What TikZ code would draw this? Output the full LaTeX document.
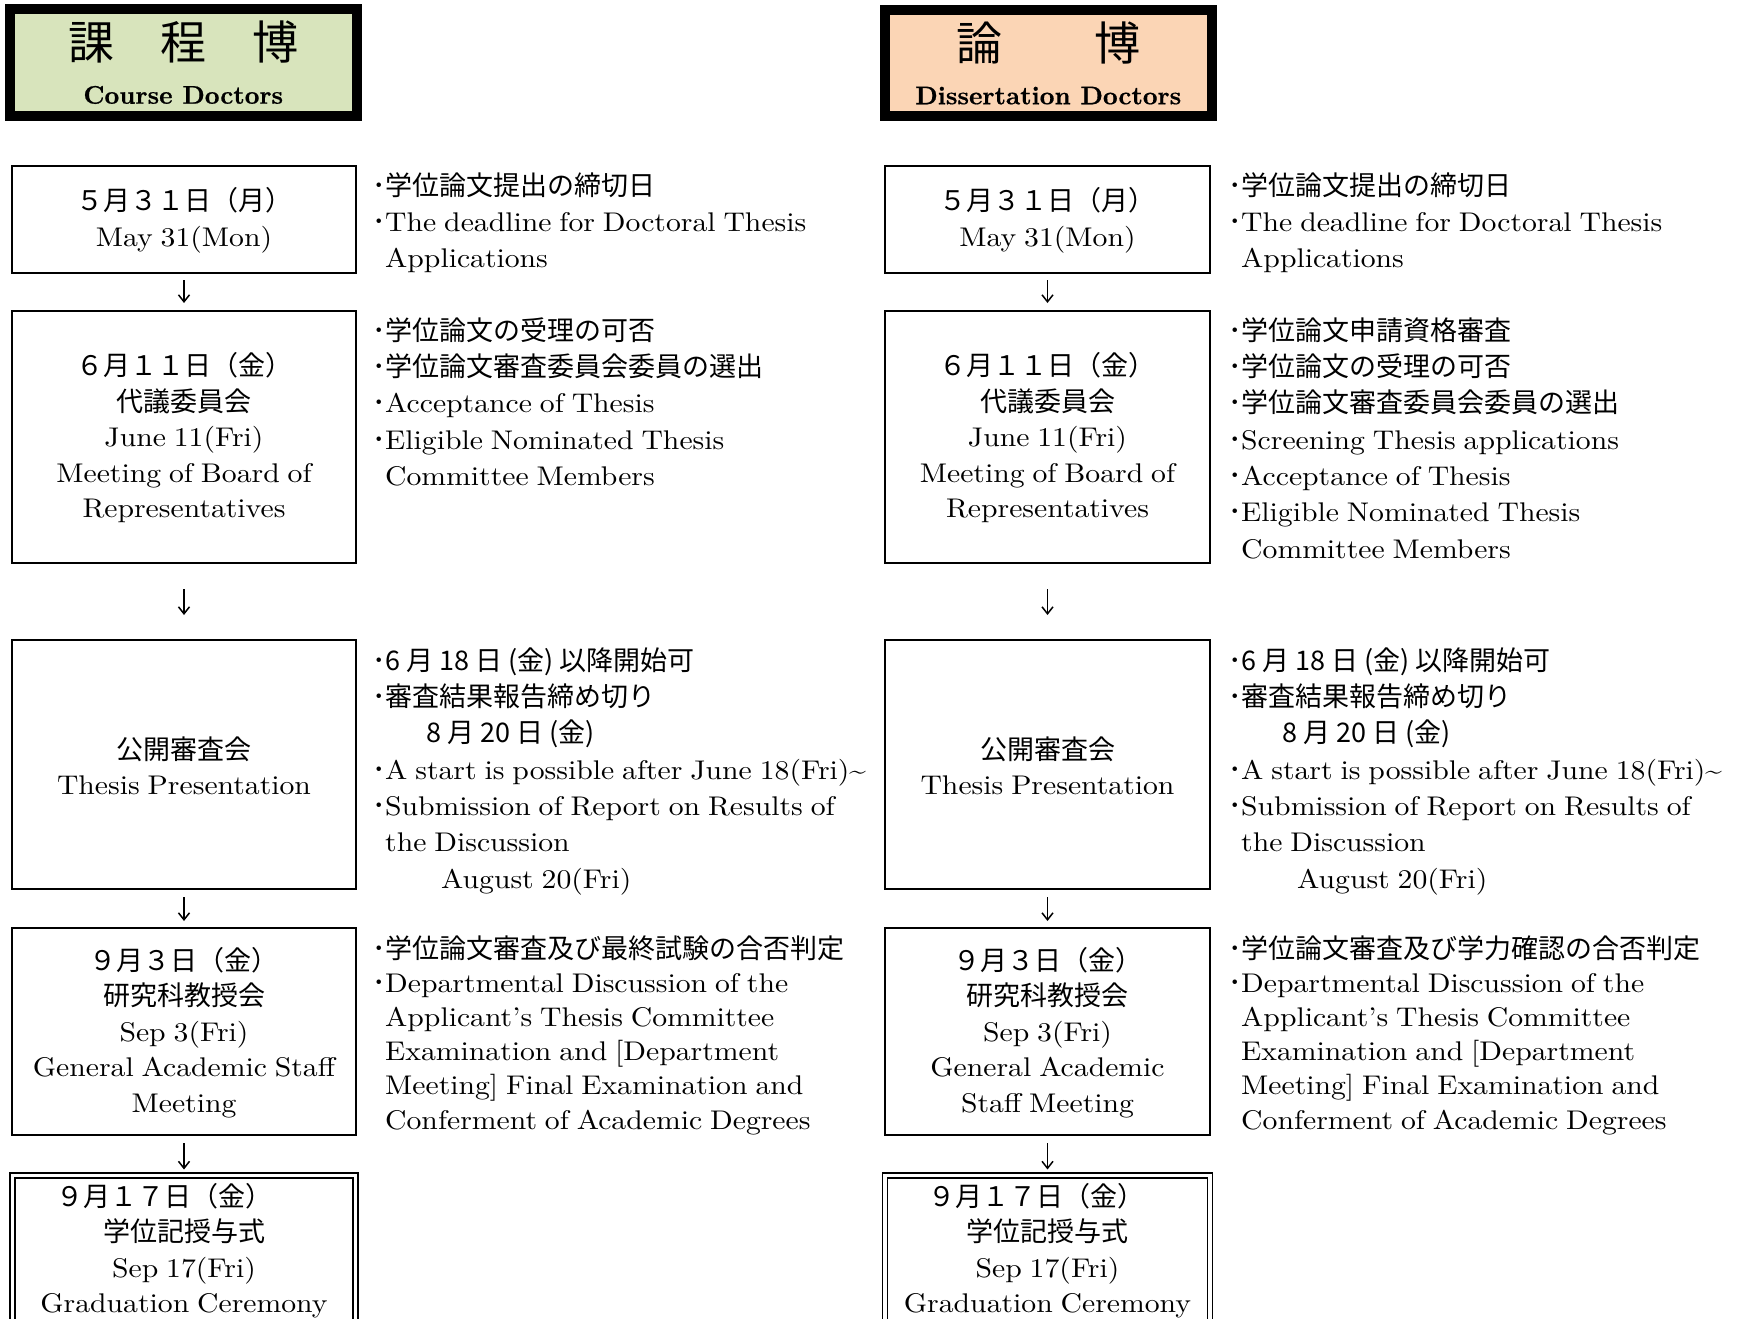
\documentclass[tikz,border=0pt]{standalone}
\usepackage{fontspec}
\usepackage{xcolor}
\usetikzlibrary{arrows.meta,positioning}

\setmainfont{lmroman10-regular.otf}[BoldFont=lmroman10-bold.otf,FakeStretch=1.1,WordSpace=0.8]
\newfontfamily\headfont{lmroman10-bold.otf}[FakeBold=0.6]
\newfontfamily\jp{Noto Sans CJK JP}
\definecolor{coursegreen}{RGB}{216,228,188}
\definecolor{dissertpeach}{RGB}{251,213,181}

\newcommand{\bul}{\makebox[13pt][l]{\jp ･}}
\newcommand{\ind}[1][13pt]{\hspace*{#1}}
\newcommand{\boxfont}{\fontsize{27}{35.5}\selectfont}
\newcommand{\notefont}{\fontsize{27}{36.3}\selectfont}

% side notes, the same text in both columns
\newcommand{\deadlinenote}{\strut\bul{\jp 学位論文提出の締切日}\\
  \bul The deadline for Doctoral Thesis\\
  \ind Applications}
\newcommand{\presentnote}{\strut\bul{\jp 6 月 18 日 (金) 以降開始可}\\
  \bul{\jp 審査結果報告締め切り}\\
  \ind[54pt]{\jp 8 月 20 日 (金)}\\
  \bul A start is possible after June 18(Fri)\textasciitilde\\
  \bul Submission of Report on Results of\\
  \ind the Discussion\\
  \ind[69pt]August 20(Fri)}
\newcommand{\discussnote}{\bul Departmental Discussion of the\\
  \ind Applicant’s Thesis Committee\\
  \ind Examination and [Department\\
  \ind Meeting] Final Examination and\\
  \ind Conferment of Academic Degrees}

\begin{document}
\begin{tikzpicture}[x=1pt,y=-1pt,
    head/.style={draw,line width=10pt,inner sep=0pt,align=center,
      minimum height=106.5pt,font=\fontsize{25.5}{44}\selectfont},
    box/.style={draw,line width=2pt,inner sep=0pt,align=center,font=\boxfont},
    lastbox/.style={box,double,line width=1.6pt,double distance=3.5pt},
    boxtext/.style={inner sep=0pt,align=center,font=\boxfont},
    note/.style={anchor=north west,inner sep=0pt,align=left,font=\notefont},
    flow/.style={-{Straight Barb[length=7pt,width=11pt]},line width=1.5pt}]
  \useasboundingbox (0,0) rectangle (1750,1319);

  % titles
  \node[head,fill=coursegreen,minimum width=347.5pt] (LH) at (183.25,62.5)
    {{\fontsize{46}{46}\selectfont\jp 課　程　博}\\{\headfont Course Doctors}};
  \node[head,fill=dissertpeach,minimum width=327.5pt] (RH) at (1048.25,63)
    {{\fontsize{46}{46}\selectfont\jp 論　　博}\\{\headfont Dissertation Doctors}};

  % course doctors
  \node[box,minimum width=344pt,minimum height=107pt] (L1) at (184,219.5)
    {\strut{\jp ５月３１日（月）}\\May 31(Mon)};
  \node[box,minimum width=344pt,minimum height=252pt] (L2) at (184,437)
    {\strut{\jp ６月１１日（金）}\\{\jp 代議委員会}\\June 11(Fri)\\Meeting of Board of\\Representatives};
  \node[box,minimum width=344pt,minimum height=249pt] (L3) at (184,764.5)
    {\strut{\jp 公開審査会}\\Thesis Presentation};
  \node[box,minimum width=344pt,minimum height=207pt] (L4) at (184,1031.5)
    {\strut{\jp ９月３日（金）}\\{\jp 研究科教授会}\\Sep 3(Fri)\\General Academic Staff\\Meeting};
  \node[lastbox,anchor=north,minimum width=343pt,minimum height=190pt] (L5) at (184,1174.5) {};
  \node[boxtext,below=6.5pt of L5.north] (L5t)
    {\strut{\jp ９月１７日（金）}\hspace*{40pt}\\{\jp 学位記授与式}\\Sep 17(Fri)\\Graduation Ceremony};

  % dissertation doctors
  \node[box,minimum width=325pt,minimum height=107pt] (R1) at (1047.5,219.5)
    {\strut{\jp ５月３１日（月）}\\May 31(Mon)};
  \node[box,minimum width=325pt,minimum height=252pt] (R2) at (1047.5,437)
    {\strut{\jp ６月１１日（金）}\\{\jp 代議委員会}\\June 11(Fri)\\Meeting of Board of\\Representatives};
  \node[box,minimum width=325pt,minimum height=249pt] (R3) at (1047.5,764.5)
    {\strut{\jp 公開審査会}\\Thesis Presentation};
  \node[box,minimum width=325pt,minimum height=207pt] (R4) at (1047.5,1031.5)
    {\strut{\jp ９月３日（金）}\\{\jp 研究科教授会}\\Sep 3(Fri)\\General Academic\\Staff Meeting};
  \node[lastbox,anchor=north,minimum width=325pt,minimum height=190pt] (R5) at (1047.5,1174.5) {};
  \node[boxtext,below=6.5pt of R5.north] (R5t)
    {\strut{\jp ９月１７日（金）}\hspace*{22pt}\\{\jp 学位記授与式}\\Sep 17(Fri)\\Graduation Ceremony};

  % notes
  \node[note] (LN1) at (372,169.6) {\deadlinenote};
  \node[note] (LN2) at (372,314.6) {\strut\bul{\jp 学位論文の受理の可否}\\
    \bul{\jp 学位論文審査委員会委員の選出}\\
    \bul Acceptance of Thesis\\
    \bul Eligible Nominated Thesis\\
    \ind Committee Members};
  \node[note] (LN3) at (372,644.6) {\presentnote};
  \node[note,font=\fontsize{27}{34.2}\selectfont] (LN4) at (372,934)
    {\strut\bul{\jp 学位論文審査及び最終試験の合否判定}\\\discussnote};

  \node[note] (RN1) at (1228,169.6) {\deadlinenote};
  \node[note] (RN2) at (1228,314.6) {\strut\bul{\jp 学位論文申請資格審査}\\
    \bul{\jp 学位論文の受理の可否}\\
    \bul{\jp 学位論文審査委員会委員の選出}\\
    \bul Screening Thesis applications\\
    \bul Acceptance of Thesis\\
    \bul Eligible Nominated Thesis\\
    \ind Committee Members};
  \node[note] (RN3) at (1228,644.6) {\presentnote};
  \node[note,font=\fontsize{27}{34.2}\selectfont] (RN4) at (1228,934)
    {\strut\bul{\jp 学位論文審査及び学力確認の合否判定}\\\discussnote};

  % arrows
  \foreach \a/\b/\s/\e in {L1/L2/6/7,L2/L3/25/24,L3/L4/7/6,L4/L5/7/5,
                           R1/R2/6/7,R2/R3/25/24,R3/R4/7/6,R4/R5/7/5}
    \draw[flow,shorten <=\s pt,shorten >=\e pt] (\a.south) -- (\a.south |- \b.north);
\end{tikzpicture}
\end{document}
